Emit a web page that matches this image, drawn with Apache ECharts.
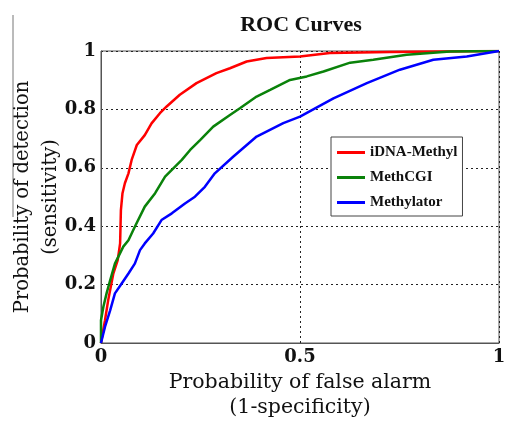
<!DOCTYPE html>
<html>
<head>
<meta charset="utf-8">
<script src="https://cdn.jsdelivr.net/npm/echarts@6/dist/echarts.min.js"></script>
<style>
  html, body { margin: 0; padding: 0; background: #fff; }
  #roc { width: 505px; height: 421px; }
</style>
</head>
<body>
<div id="roc"></div>
<script>
// ROC曲线 数据
var redX = [0, 0.010, 0.018, 0.031, 0.042, 0.048, 0.050, 0.054, 0.060, 0.069, 0.077, 0.09, 0.11, 0.127, 0.148, 0.165, 0.198, 0.24, 0.29, 0.324, 0.366, 0.416, 0.5, 0.575, 0.726, 1];
var redY = [0, 0.078, 0.146, 0.238, 0.284, 0.341, 0.455, 0.513, 0.547, 0.581, 0.627, 0.678, 0.712, 0.752, 0.787, 0.81, 0.85, 0.89, 0.924, 0.941, 0.964, 0.976, 0.981, 0.993, 0.997, 1];

var greenX = [0, 0, 0.006, 0.014, 0.023, 0.035, 0.056, 0.069, 0.085, 0.11, 0.136, 0.161, 0.203, 0.224, 0.249, 0.282, 0.324, 0.349, 0.391, 0.425, 0.475, 0.517, 0.559, 0.626, 0.684, 0.768, 0.877, 1];
var greenY = [0, 0.078, 0.124, 0.17, 0.215, 0.272, 0.33, 0.352, 0.398, 0.467, 0.513, 0.57, 0.627, 0.661, 0.695, 0.741, 0.781, 0.804, 0.844, 0.867, 0.901, 0.913, 0.93, 0.96, 0.97, 0.987, 0.998, 1];

var blueX = [0, 0.01, 0.023, 0.035, 0.052, 0.069, 0.085, 0.098, 0.11, 0.131, 0.152, 0.178, 0.211, 0.236, 0.261, 0.286, 0.332, 0.391, 0.458, 0.5, 0.584, 0.668, 0.751, 0.835, 0.919, 1];
var blueY = [0, 0.055, 0.112, 0.17, 0.204, 0.238, 0.272, 0.318, 0.341, 0.375, 0.421, 0.444, 0.478, 0.501, 0.535, 0.581, 0.638, 0.707, 0.753, 0.775, 0.838, 0.89, 0.936, 0.97, 0.981, 1];

var seriesNames = ['iDNA-Methyl', 'MethCGI', 'Methylator'];
var seriesColors = ['#ff0000', '#0a820a', '#0000ff'];

function zip(xs, ys) {
    var out = [];
    for (var i = 0; i < xs.length; i++) {
        out.push([xs[i], ys[i]]);
    }
    return out;
}

var font = 'DejaVu Serif';
var font2 = 'Liberation Serif';
var rocChart = echarts.init(document.getElementById('roc'));

var allData = [zip(redX, redY), zip(greenX, greenY), zip(blueX, blueY)];
var seriesObj = [];
for (var i = 0; i < seriesNames.length; i++) {
    seriesObj.push({
        name: seriesNames[i],
        type: 'line',
        showSymbol: false,
        symbol: 'none',
        lineStyle: {
            color: seriesColors[i],
            width: 2.5
        },
        itemStyle: {
            color: seriesColors[i]
        },
        data: allData[i]
    });
}

var option = {
    backgroundColor: '#fff',
    animation: false,
    title: {
        text: 'ROC Curves',
        left: 296,
        top: 9,
        textAlign: 'center',
        textStyle: {
            fontFamily: font2,
            fontWeight: 'bold',
            fontSize: 22,
            color: '#111'
        }
    },
    grid: {
        left: 101,
        right: 6,
        top: 51,
        bottom: 78,
        outerBoundsMode: 'none',
        containLabel: false,
        show: true,
        borderColor: '#555',
        borderWidth: 1
    },
    legend: {
        orient: 'vertical',
        left: 331,
        top: 137,
        padding: [8, 5, 6, 6],
        itemGap: 10,
        itemWidth: 28,
        itemHeight: 3,
        icon: 'rect',
        borderColor: '#444',
        borderWidth: 1,
        backgroundColor: '#fff',
        textStyle: {
            fontFamily: font2,
            fontWeight: 'bold',
            fontSize: 15,
            color: '#111'
        },
        data: seriesNames
    },
    xAxis: {
        type: 'value',
        min: 0,
        max: 1,
        interval: 0.5,
        name: 'Probability of false alarm\n(1-specificity)',
        nameLocation: 'middle',
        nameGap: 27,
        nameMoveOverlap: false,
        nameTextStyle: {
            fontFamily: font,
            fontSize: 20.5,
            color: '#111',
            lineHeight: 25,
            verticalAlign: 'top'
        },
        axisLine: { show: true, lineStyle: { color: '#555' } },
        axisTick: { show: false },
        axisLabel: {
            fontFamily: font,
            fontWeight: 'bold',
            fontSize: 18,
            color: '#111',
            margin: 5
        },
        splitLine: {
            show: true,
            lineStyle: { color: '#222', type: [2, 3], width: 1 }
        }
    },
    yAxis: {
        type: 'value',
        min: 0,
        max: 1,
        interval: 0.2,
        name: 'Probability of detection\n(sensitivity)',
        nameLocation: 'middle',
        nameGap: 36,
        nameMoveOverlap: false,
        nameTextStyle: {
            fontFamily: font,
            fontSize: 19.5,
            color: '#111',
            lineHeight: 28
        },
        axisLine: { show: true, lineStyle: { color: '#555' } },
        axisTick: { show: false },
        axisLabel: {
            fontFamily: font,
            fontWeight: 'bold',
            fontSize: 18,
            color: '#111',
            margin: 5
        },
        splitLine: {
            show: true,
            lineStyle: { color: '#222', type: [2, 3], width: 1 }
        }
    },
    graphic: [{
        // 左边的灰色竖线
        type: 'line',
        shape: { x1: 13, y1: 15, x2: 13, y2: 217 },
        style: { stroke: '#777', lineWidth: 1 }
    }],
    series: seriesObj
};
rocChart.setOption(option);
</script>
</body>
</html>
